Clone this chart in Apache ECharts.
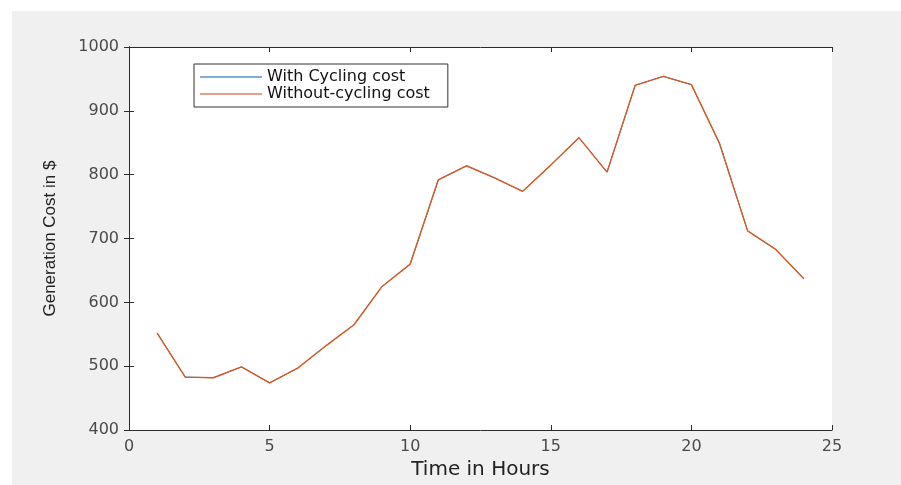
<!DOCTYPE html>
<html>
<head>
<meta charset="utf-8">
<script src="https://cdn.jsdelivr.net/npm/echarts@6/dist/echarts.min.js"></script>
<style>
  html, body { margin: 0; padding: 0; background: #fff; }
  #chart { width: 901px; height: 485px; }
</style>
</head>
<body>
<div id="chart"></div>
<script>
  // hours and generation cost
  var hours = [1, 2, 3, 4, 5, 6, 7, 8, 9, 10, 11, 12, 13, 14, 15, 16, 17, 18, 19, 20, 21, 22, 23, 24];
  var withCycling = [552, 483, 482, 499, 474, 497, 532, 565, 625, 660, 792, 814, 795, 774, 815, 858, 804, 940, 954, 941, 849, 712, 683, 637];
  var withoutCycling = [552, 483, 482, 499, 474, 497, 532, 565, 625, 660, 792, 814, 795, 774, 815, 858, 804, 940, 954, 941, 849, 712, 683, 637];
  var seriesNames = ['With Cycling cost', 'Without-cycling cost'];

  function pairs(ys) {
    var out = [];
    for (var i = 0; i < hours.length; i++) out.push([hours[i], ys[i]]);
    return out;
  }

  var axisColor = '#2b2b2b';
  var labelStyle = { color: '#4a4a4a', fontFamily: 'DejaVu Sans', fontSize: 16 };

  var myChart = echarts.init(document.getElementById('chart'));
  myChart.setOption({
    backgroundColor: '#fff',
    animation: false,
    graphic: [{
      type: 'rect',
      z: -10,
      silent: true,
      shape: { x: 12, y: 11, width: 889, height: 474 },
      style: { fill: '#f0f0f0' }
    }],
    grid: {
      left: 129, top: 47, right: 69, bottom: 49,
      show: true, backgroundColor: '#fff', borderWidth: 0
    },
    legend: {
      orient: 'vertical',
      left: 194, top: 64,
      padding: [5, 18, 5, 6],
      itemGap: 1,
      itemWidth: 62, itemHeight: 2,
      icon: 'rect',
      borderColor: '#333', borderWidth: 1,
      backgroundColor: '#fff',
      textStyle: { color: '#111', fontFamily: 'DejaVu Sans', fontSize: 16, lineHeight: 16 },
      data: seriesNames
    },
    xAxis: [{
      type: 'value', min: 0, max: 25, interval: 5,
      name: 'Time in Hours', nameLocation: 'middle', nameGap: 26,
      nameTextStyle: { color: '#222', fontFamily: 'DejaVu Sans', fontSize: 20 },
      axisLine: { show: true, onZero: false, lineStyle: { color: axisColor } },
      axisTick: { show: true, inside: true, length: 5, lineStyle: { color: axisColor } },
      axisLabel: Object.assign({ margin: 9 }, labelStyle),
      splitLine: { show: false }
    }, {
      type: 'value', min: 0, max: 25, interval: 5, position: 'top',
      axisLine: { show: true, lineStyle: { color: axisColor } },
      axisTick: { show: true, inside: true, length: 5, lineStyle: { color: axisColor } },
      axisLabel: { show: false },
      splitLine: { show: false }
    }],
    yAxis: [{
      type: 'value', min: 400, max: 1000, interval: 100,
      name: 'Generation Cost in $', nameLocation: 'middle', nameGap: 70, nameRotate: 90,
      nameTextStyle: { color: '#222', fontFamily: 'Liberation Sans', fontSize: 17 },
      axisLine: { show: true, onZero: false, lineStyle: { color: axisColor } },
      axisTick: { show: true, inside: true, length: 5, lineStyle: { color: axisColor } },
      axisLabel: Object.assign({ margin: 10, formatter: function (v) { return String(v); } }, labelStyle),
      splitLine: { show: false }
    }, {
      type: 'value', min: 400, max: 1000, interval: 100, position: 'right',
      axisLine: { show: true, lineStyle: { color: axisColor } },
      axisTick: { show: true, inside: true, length: 5, lineStyle: { color: axisColor } },
      axisLabel: { show: false },
      splitLine: { show: false }
    }],
    series: [{
      name: seriesNames[0],
      type: 'line',
      data: pairs(withCycling),
      showSymbol: false,
      color: '#7fb0d8',
      lineStyle: { width: 1, color: '#0072BD' }
    }, {
      name: seriesNames[1],
      type: 'line',
      data: pairs(withoutCycling),
      showSymbol: false,
      color: '#e8a08a',
      lineStyle: { width: 1.4, color: '#DA5A22' }
    }]
  });
</script>
</body>
</html>
